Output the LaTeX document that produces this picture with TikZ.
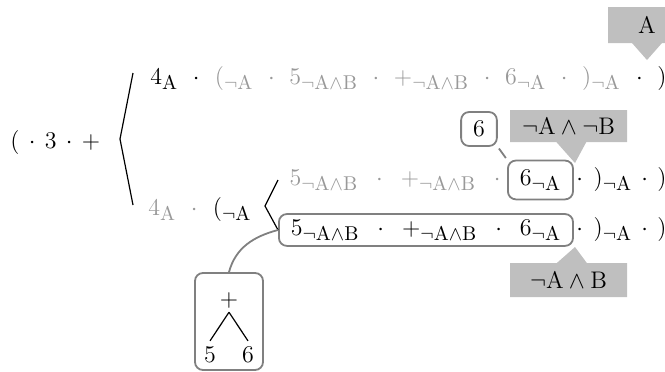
\documentclass[tikz,border=0pt]{standalone}
\usepackage{amsmath}
\usetikzlibrary{positioning}
\usetikzlibrary{shapes.callouts}
\usetikzlibrary{calc}

\DeclareMathSizes{13}{13}{10.4}{8}
\newcommand{\cA}{\mathrm{A}}
\newcommand{\cnA}{\neg\mathrm{A}}
\newcommand{\cnAB}{\neg\mathrm{A}\wedge\mathrm{B}}
\newcommand{\mdot}{\mskip11mu{\cdot}\mskip11mu}
\newcommand{\wdot}{\mskip13.5mu{\cdot}\mskip13.5mu}
\newcommand{\sdot}{\mskip7mu{\cdot}\mskip7mu}

\begin{document}
\begin{tikzpicture}[
            x = 0.5pt, y = -0.5pt, % pixel grid, y pointing down
            every node/.style = {font=\fontsize{13}{16}\selectfont, inner sep=0pt},
            faded/.style = {text=black!40},
            hlbox/.style = {draw=black!50, line width=0.9pt, rounded corners=4pt,
                            inner xsep=6pt, inner ysep=2.75pt},
            tag/.style = {rectangle callout, fill=black!25, inner sep=2pt,
                          callout pointer width=15pt},
            brace/.style = {line width=0.6pt},
            link/.style = {draw=black!50, line width=0.9pt}
        ]
        \useasboundingbox (0,0) rectangle (665,371);

% leading part
        \node[anchor=base west] (lead) at (10,148) {$(\sdot 3\sdot{+}$};

% first alternative
        \node[anchor=base east] (R1c) at (667,84) {$\mdot)$};
        \node[faded] (R1b) [base left=0pt of R1c] {$(_{\cnA}\mdot 5_{\cnAB}\mdot{+}_{\cnAB}\mdot 6_{\cnA}\mdot)_{\cnA}$};
        \node (R1a) [base left=0pt of R1b] {$4_{\cA}\mdot$};

% second alternative
        \node[faded, anchor=base west] (R4a) at (148,215) {$4_{\cA}\mdot$};
        \node (R4b) [base right=0pt of R4a] {$(_{\cnA}$};

        \node[anchor=base east] (R2c) at (667,185) {${\cdot}\mskip8mu)_{\cnA}\sdot)$};
        \node[hlbox, inner ysep=4.5pt] (R2box) [base left=1pt of R2c] {$6_{\cnA}$};
        \node[faded] (R2a) [base left=3pt of R2box] {$5_{\cnAB}\wdot{+}_{\cnAB}\mskip13.5mu{\cdot}$};

        \node[anchor=base east] (R3c) at (667,235) {${\cdot}\mskip8mu)_{\cnA}\sdot)$};
        \node[hlbox] (R3box) [base left=1pt of R3c] {$5_{\cnAB}\wdot{+}_{\cnAB}\wdot 6_{\cnA}$};

% brackets
        \coordinate (bigtop) at (133,73);
        \coordinate (bigtip) at (120,139);
        \coordinate (bigbot) at (133,205);
        \draw[brace] (bigtop) -- (bigtip) -- (bigbot);

        \coordinate (smalltop) at (278,180);
        \coordinate (smalltip) at (265,206);
        \draw[brace] (smalltop) -- (smalltip) -- (R3box.west);

% annotations
        \coordinate (tipA) at (647,60);
        \node[tag, minimum width=39pt, minimum height=18pt, callout absolute pointer={(tipA)}] (tagA) at (647,25) {$\cA$};

        \coordinate (tipAnB) at (575,163);
        \node[tag, minimum width=58.5pt, minimum height=16pt, callout absolute pointer={(tipAnB)}] (tagAnB) at (568.5,126) {$\neg\cA\wedge\neg\mathrm{B}$};

        \coordinate (tipAB) at (575,247);
        \node[tag, minimum width=58.5pt, minimum height=17pt, callout absolute pointer={(tipAB)}] (tagAB) at (568.5,280) {$\cnAB$};

        \node[hlbox, minimum width=14pt, minimum height=17pt] (six) at (479,129) {$6$};
        \draw[link, shorten <=1pt, shorten >=1pt] (six.south east) -- (R2box.north west);

% syntax tree
        \node[hlbox, minimum width=34pt, minimum height=48.5pt] (tree) at (229,321.5) {};
        \node[inner sep=2pt] (plus) at (229,300) {$+$};
        \node[inner sep=3pt] (five) at (210,355) {$5$};
        \node[inner sep=3pt] (sixleaf) at (248,355) {$6$};
        \draw[brace] (plus.south) -- (five.north);
        \draw[brace] (plus.south) -- (sixleaf.north);
        \draw[link] (tree.north) to[out=75, in=195] (R3box.west);

\end{tikzpicture}
\end{document}
